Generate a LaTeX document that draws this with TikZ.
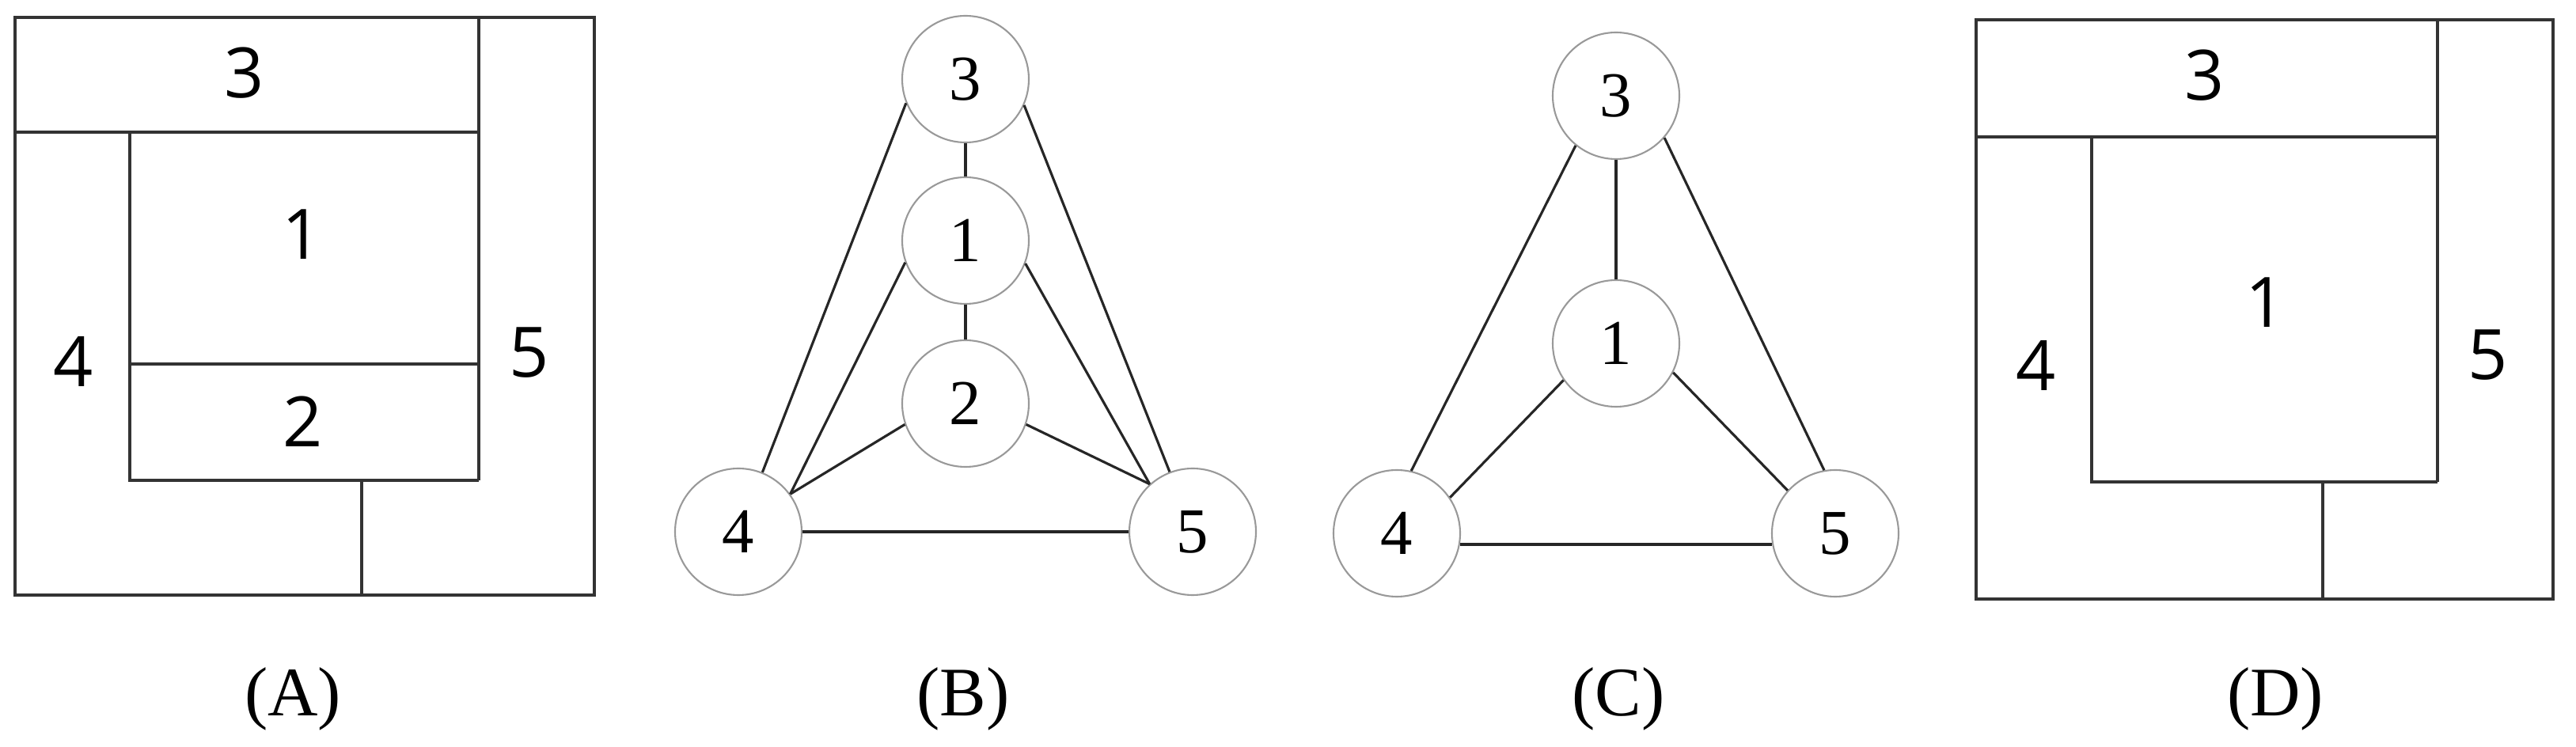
\documentclass[tikz,border=0pt]{standalone}
\usepackage{fontspec}
\setmainfont{Liberation Serif}
\newfontfamily\plandigits{Open Sans}
\usetikzlibrary{shapes,arrows}

\tikzset{
  wall/.style={line width=1.1pt, draw=black!80},
  room/.style={font=\plandigits\fontsize{25}{30}\selectfont},
  vertex/.style={circle, draw=black!40, line width=0.6pt, minimum size=1.6cm, inner sep=0pt, font=\fontsize{23}{27}\selectfont},
  link/.style={line width=0.9pt, draw=black!85},
  caption/.style={anchor=base, font=\fontsize{25}{30}\selectfont}
}

\begin{document}
\begin{tikzpicture}
     \useasboundingbox (0,0) rectangle (32.55,9.44);
     % plan A
     \draw [wall] (0.19,1.92) rectangle (7.51,9.22);
     \draw [wall] (0.19,7.77) -- (6.05,7.77);
     \draw [wall] (6.05,9.22) -- (6.05,3.37);
     \draw [wall] (1.64,7.77) -- (1.64,3.37) -- (6.05,3.37);
     \draw [wall] (1.64,4.84) -- (6.05,4.84);
     \draw [wall] (4.57,3.37) -- (4.57,1.92);
     \node [room] (a3) at (3.09,8.52) {3};
     \node [room] (a1) at (3.82,6.48) {1};
     \node [room] (a2) at (3.83,4.11) {2};
     \node [room] (a4) at (0.93,4.87) {4};
     \node [room] (a5) at (6.69,4.98) {5};
     % graph B
     \node [vertex] (b3) at (12.20,8.44) {3};
     \node [vertex] (b1) at (12.20,6.40) {1};
     \node [vertex] (b2) at (12.20,4.34) {2};
     \node [vertex] (b4) at (9.33,2.72) {4};
     \node [vertex] (b5) at (15.07,2.72) {5};
     \draw [link] (b3) -- (b1);
     \draw [link] (b1) -- (b2);
     \draw [link] (b3.202) -- (b4.68);
     \draw [link] (b3.336) -- (b5.111);
     \draw [link] (b1.200) -- (b4.36);
     \draw [link] (b1.339) -- (b5.132);
     \draw [link] (b2.199) -- (b4.36);
     \draw [link] (b2.341) -- (b5.132);
     \draw [link] (b4) -- (b5);
     % graph C
     \node [vertex] (c3) at (20.42,8.23) {3};
     \node [vertex] (c1) at (20.42,5.10) {1};
     \node [vertex] (c4) at (17.65,2.70) {4};
     \node [vertex] (c5) at (23.19,2.70) {5};
     \draw [link] (c3) -- (c1);
     \draw [link] (c3.231) -- (c4.77);
     \draw [link] (c3.319) -- (c5.100);
     \draw [link] (c1.215) -- (c4.34);
     \draw [link] (c1.333) -- (c5.138);
     \draw [link] (c4.-10) -- (c5.190);
     % plan D
     \draw [wall] (24.97,1.87) rectangle (32.26,9.19);
     \draw [wall] (24.97,7.71) -- (30.80,7.71);
     \draw [wall] (30.80,9.19) -- (30.80,3.35);
     \draw [wall] (26.43,7.71) -- (26.43,3.35) -- (30.80,3.35);
     \draw [wall] (29.35,3.35) -- (29.35,1.87);
     \node [room] (d3) at (27.86,8.49) {3};
     \node [room] (d1) at (28.63,5.62) {1};
     \node [room] (d4) at (25.73,4.82) {4};
     \node [room] (d5) at (31.44,4.95) {5};
     % captions
     \node [caption] (capA) at (3.70,0.39) {(A)};
     \node [caption] (capB) at (12.17,0.39) {(B)};
     \node [caption] (capC) at (20.45,0.39) {(C)};
     \node [caption] (capD) at (28.75,0.39) {(D)};
\end{tikzpicture}
\end{document}
